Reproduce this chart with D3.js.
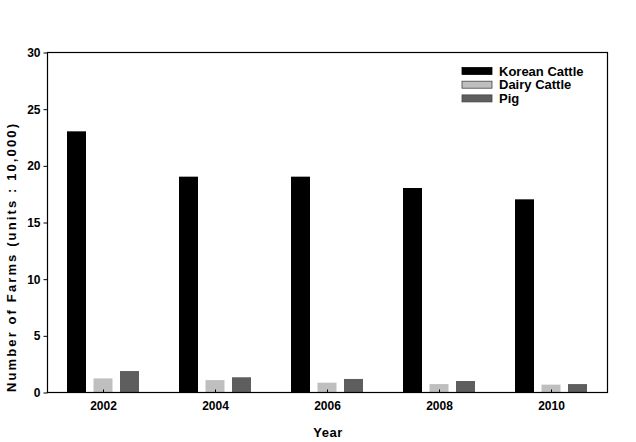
<!DOCTYPE html>
<html>
<head>
<meta charset="utf-8">
<script src="https://cdn.jsdelivr.net/npm/d3@7"></script>
<style>
  html, body { margin: 0; padding: 0; background: #fff; }
  svg text { font-family: "Liberation Sans", Arial, sans-serif; font-weight: bold; fill: #000; }
</style>
</head>
<body>
<svg id="chart" width="636" height="442"></svg>
<script>
const years = ["2002", "2004", "2006", "2008", "2010"];
const seriesNames = ["Korean Cattle", "Dairy Cattle", "Pig"];
const koreanCattle = [23, 19, 19, 18, 17];
const dairyCattle = [1.2, 1.05, 0.82, 0.7, 0.65];
const pig = [1.85, 1.3, 1.15, 0.97, 0.7];
const seriesColors = ["#000000", "#bfbfbf", "#5e5e5e"];
const yTicks = [0, 5, 10, 15, 20, 25, 30];

const seriesValues = [koreanCattle, dairyCattle, pig];

const svg = d3.select("#chart");
const plot = { left: 47, right: 607, top: 52, bottom: 392 };

const x0 = d3.scaleBand().domain(years).range([plot.left, plot.right]).paddingInner(0).paddingOuter(0);
const bw = x0.bandwidth();
const x1 = d3.scaleBand().domain(seriesNames)
  .range([bw / 2 - 36, bw / 2 + 36]).paddingInner(0.283).paddingOuter(0);
const y = d3.scaleLinear().domain([0, 30]).range([plot.bottom, plot.top]);

// bars
const groups = svg.append("g").selectAll("g").data(years).join("g")
  .attr("transform", d => `translate(${x0(d)},0)`);
groups.selectAll("rect")
  .data((d, i) => seriesNames.map((s, k) => ({ s, k, v: seriesValues[k][i] })))
  .join("rect")
  .attr("x", d => x1(d.s))
  .attr("width", x1.bandwidth())
  .attr("y", d => y(d.v))
  .attr("height", d => y(0) - y(d.v))
  .attr("fill", d => seriesColors[d.k]);

// frame
svg.append("rect")
  .attr("x", plot.left + 0.5).attr("y", plot.top + 0.5)
  .attr("width", plot.right - plot.left).attr("height", plot.bottom - plot.top)
  .attr("fill", "none").attr("stroke", "#000").attr("stroke-width", 1.2);

// y axis
const yAxis = svg.append("g")
  .attr("transform", `translate(${plot.left + 0.5},0.5)`)
  .call(d3.axisLeft(y).tickValues(yTicks).tickSize(4).tickPadding(3));
yAxis.select(".domain").remove();
yAxis.selectAll("text").style("font-size", "12px");

// x axis
const xAxis = svg.append("g")
  .attr("transform", `translate(0.5,${plot.bottom + 0.5})`)
  .call(d3.axisBottom(x0).tickSize(-3).tickPadding(9));
xAxis.select(".domain").remove();
xAxis.selectAll("text").style("font-size", "12px");

// axis titles
svg.append("text")
  .attr("x", 328).attr("y", 437)
  .attr("text-anchor", "middle")
  .style("font-size", "13px")
  .attr("letter-spacing", "0.5px")
  .text("Year");

svg.append("text")
  .attr("transform", "translate(16,258) rotate(-90)")
  .attr("text-anchor", "middle")
  .style("font-size", "13px")
  .attr("textLength", 268)
  .attr("lengthAdjust", "spacing")
  .text("Number of Farms (units : 10,000)");

// legend
const legend = svg.append("g").attr("transform", "translate(462,71)");
const rowH = 13.7;
seriesNames.forEach((name, k) => {
  const g = legend.append("g").attr("transform", `translate(0,${k * rowH})`);
  g.append("rect")
    .attr("x", 0).attr("y", -3.5).attr("width", 30).attr("height", 7)
    .attr("fill", seriesColors[k])
    .attr("stroke", k === 0 ? "#000" : "#444").attr("stroke-width", 0.8);
  g.append("text")
    .attr("x", 37).attr("y", 4.5)
    .style("font-size", "13px")
    .text(name);
});
</script>
</body>
</html>
